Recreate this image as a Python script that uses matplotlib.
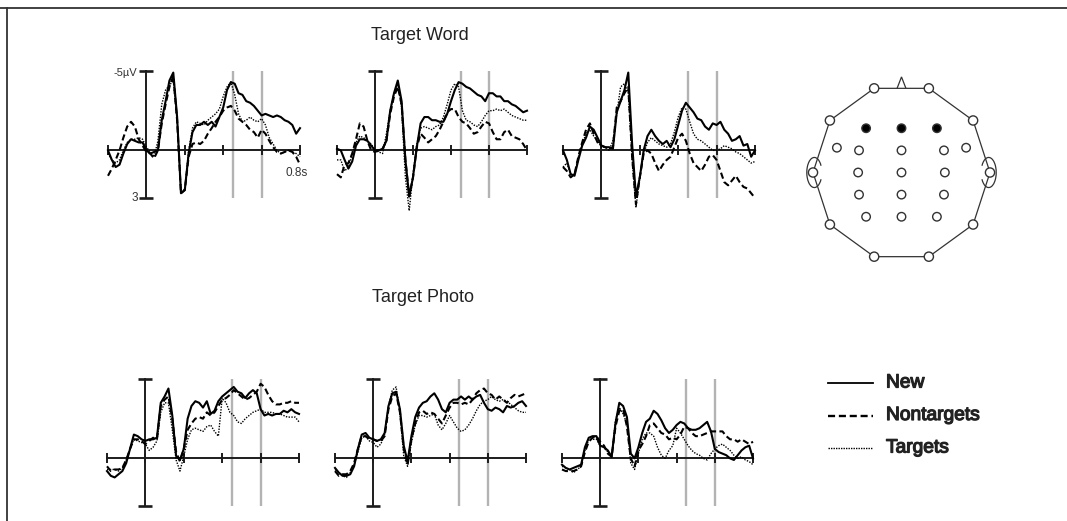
import numpy as np
import matplotlib
matplotlib.use("Agg")
import matplotlib.pyplot as plt
from matplotlib.patches import Circle, Polygon, Arc
import matplotlib.patheffects as pe

plt.rcParams['font.family'] = ['Liberation Sans', 'DejaVu Sans']

# ---------------------------------------------------------------------------
# ERP grand averages (µV, negative plotted up), sampled every 20 ms
# ---------------------------------------------------------------------------
time_s = np.round(np.arange(-0.2, 0.8001, 0.02), 2)
tick_s = [-0.2, 0.0, 0.2, 0.4, 0.6, 0.8]
window_s = [0.45, 0.60]
volt_range = [-5, 3]

# Target Word -- F3
word_f3_new = [0, 0.6, 1.05, 0.9, 0.2, -0.4, -0.7, -0.6, -0.5, -0.5, 0, 0.2, 0.1, 0,
               -1.9, -3.1, -4.4, -4.9, -2.1, 2.7, 2.5, 0.2, -1.15, -1.6, -1.6, -1.8,
               -1.6, -1.8, -1.5, -2.1, -2.7, -3.8, -4.3, -4.2, -3.6, -3.5, -3.1, -3.0,
               -2.8, -2.5, -2.2, -2.3, -2.2, -2.1, -2.2, -2.1, -1.9, -1.8, -1.6, -1.05, -1.4]
word_f3_nontarget = [1.6, 1.15, 0.6, 0, -0.8, -1.5, -1.8, -1.5, -0.7, -0.3, 0.1, 0.2, 0.5, 0,
                     -1.7, -2.9, -4.0, -4.7, -1.9, 2.7, 2.5, 0.4, -0.4, -0.5, -0.4, -0.6,
                     -1.05, -1.4, -1.8, -2.1, -2.5, -2.7, -2.8, -2.5, -2.0, -1.8, -1.6, -1.3,
                     -1.15, -0.8, -1.3, -1.05, -0.6, -0.2, 0.1, 0.2, 0.1, 0, 0.1, 0.4, 0.9]
word_f3_target = [0.2, 0.6, 0.8, 0.6, 0, -0.5, -0.7, -0.7, -0.8, -0.7, -0.2, 0.1, 0.4, -0.6,
                  -2.9, -3.8, -4.1, -4.4, -1.9, 2.5, 2.5, 0, -1.4, -1.8, -1.7, -1.6,
                  -1.9, -2.1, -2.3, -2.6, -3.4, -4.0, -4.3, -3.5, -2.3, -1.8, -1.9, -2.1,
                  -1.9, -1.8, -2.0, -1.6, -0.8, -0.4, 0, 0.2, 0.1, 0, 0.1, 0.2, 0.4]

# Target Word -- Fz
word_fz_new = [-0.1, 0, 0.6, 1.15, 0.7, -0.3, -0.7, -0.7, -0.6, -0.3, 0, 0, -0.1, -0.6,
               -2.5, -3.6, -4.4, -3.1, 0.6, 2.9, 1.7, -0.2, -1.7, -2.1, -2.1, -1.9,
               -1.9, -1.8, -1.8, -2.3, -3.1, -3.8, -4.3, -4.2, -4.0, -3.9, -3.7, -3.5,
               -3.4, -3.1, -3.6, -3.6, -3.4, -3.4, -3.1, -3.1, -2.9, -2.8, -2.6, -2.4, -2.5]
word_fz_nontarget = [1.5, 1.7, 0.9, 0.8, 0.2, -0.7, -1.7, -1.5, -0.6, 0, 0.1, 0, -0.1, -0.6,
                     -2.3, -3.4, -4.0, -2.9, 0.6, 2.9, 1.7, -0.2, -1.05, -0.8, -0.5, -0.7,
                     -0.9, -1.3, -1.8, -2.4, -2.6, -2.6, -2.1, -1.8, -1.7, -1.4, -1.05, -1.15,
                     -1.5, -1.8, -1.7, -1.15, -0.7, -0.7, -1.15, -1.3, -0.9, -0.8, -0.7, -0.4, 0]
word_fz_target = [0.6, 0.6, 1.3, 1.05, 0.2, -0.5, -0.9, -0.8, -0.6, -0.4, 0, 0.1, 0.2, -1.05,
                  -2.5, -3.6, -4.2, -2.7, 1.7, 3.8, 1.5, -0.4, -1.4, -1.5, -1.4, -1.3,
                  -1.5, -1.6, -2.1, -2.9, -3.8, -4.2, -4.0, -2.5, -1.9, -1.8, -1.6, -1.5,
                  -1.8, -2.2, -2.5, -2.5, -2.6, -2.5, -2.6, -2.4, -2.2, -2.1, -2.0, -1.9, -1.9]

# Target Word -- F4
word_f4_new = [0, 0.6, 1.5, 1.6, 0.6, -0.3, -0.8, -1.5, -1.3, -0.8, -0.3, -0.2, -0.2, -0.1,
               -2.4, -3.1, -3.8, -4.9, -0.4, 2.9, 1.7, 0, -0.9, -1.3, -0.9, -0.6,
               -0.4, -0.6, -0.2, -0.7, -1.6, -2.5, -3.0, -2.7, -2.4, -2.0, -1.9, -1.5,
               -1.3, -1.7, -1.6, -1.8, -1.3, -1.05, -0.6, -0.7, -0.9, -0.3, -0.4, 0.4, 0]
word_f4_nontarget = [1.05, 1.3, 1.7, 1.5, 0.4, -0.5, -1.3, -1.7, -1.05, -0.5, -0.3, -0.2, -0.1, -0.2,
                     -2.7, -3.1, -3.6, -4.0, 0.4, 3.4, 1.7, 0.2, 0, 0.2, 0.8, 1.3,
                     0.9, 0.6, 0.4, -0.2, -0.8, -1.05, -0.6, 0.2, 0.8, 1.05, 1.3, 0.9,
                     0.4, 0.3, 0.6, 1.3, 2.0, 2.2, 1.9, 1.6, 2.0, 2.3, 2.4, 2.7, 3.0]
word_f4_target = [1.05, 0.8, 1.5, 1.5, 0.4, -0.4, -1.05, -1.3, -0.9, -0.6, -0.2, -0.2, 0, -0.6,
                  -2.3, -4.0, -4.2, -3.6, 0.6, 3.6, 1.7, 0.2, -0.5, -0.8, -0.6, -0.4,
                  -0.3, -0.2, -0.4, -1.15, -2.1, -2.7, -2.6, -1.8, -1.05, -0.7, -0.6, -0.4,
                  -0.2, 0, 0, -0.1, -0.3, -0.2, -0.1, 0.1, 0.2, 0.4, 0.6, 0.8, 0.7]

# Target Photo -- F3
photo_f3_new = [0.8, 1.1, 1.2, 1.0, 0.8, 0.3, -0.6, -1.5, -1.4, -1.2, -1.1, -1.2, -1.2, -1.3,
                -3.5, -3.9, -4.4, -2.7, -0.15, 0.1, -0.6, -2.5, -3.3, -3.6, -3.5, -3.2,
                -3.6, -2.8, -3.0, -3.6, -3.9, -4.1, -4.3, -4.5, -4.2, -4.1, -3.8, -4.1,
                -4.3, -4.1, -3.1, -2.7, -2.8, -2.7, -2.8, -2.8, -3.0, -2.9, -3.1, -2.9, -2.8]
photo_f3_nontarget = [0.5, 0.8, 0.7, 0.7, 0.6, 0.1, -0.6, -1.2, -1.2, -1.1, -0.9, -1.1, -1.3, -1.2,
                      -3.3, -3.7, -3.9, -2.5, -0.4, 0.2, -0.6, -1.8, -2.2, -2.5, -2.6, -2.5,
                      -2.9, -2.7, -2.9, -3.3, -3.7, -3.8, -4.0, -4.3, -4.1, -3.9, -3.7, -3.8,
                      -4.0, -4.2, -4.7, -4.5, -4.0, -3.6, -3.4, -3.4, -3.5, -3.5, -3.6, -3.5, -3.5]
photo_f3_target = [0.7, 0.7, 0.7, 0.8, 0.6, 0.1, -0.6, -1.2, -1.1, -1.0, -0.9, -0.5, -0.7, -1.1,
                   -2.9, -3.5, -3.5, -1.8, 0.1, 0.8, -0.15, -1.2, -1.8, -1.9, -1.8, -1.7,
                   -2.0, -2.1, -1.7, -1.4, -3.8, -3.5, -2.9, -2.7, -2.3, -2.2, -2.5, -2.7,
                   -2.9, -3.0, -3.1, -2.9, -2.9, -2.9, -2.8, -2.8, -2.7, -2.6, -2.6, -2.6, -2.3]

# Target Photo -- Fz
photo_fz_new = [0.6, 0.9, 1.1, 1.1, 1.0, 0.5, -0.6, -1.5, -1.6, -1.3, -1.2, -1.1, -1.2, -1.6,
                -3.3, -4.1, -4.2, -3.1, -0.8, 0.2, -1.4, -2.6, -3.2, -3.5, -3.6, -3.9,
                -4.1, -3.7, -3.1, -2.9, -3.5, -3.7, -3.7, -3.9, -3.7, -3.9, -3.7, -3.9,
                -4.0, -3.5, -3.1, -3.0, -3.2, -3.1, -2.9, -3.3, -3.2, -3.3, -3.5, -3.6, -3.3]
photo_fz_nontarget = [0.8, 1.1, 1.0, 1.0, 0.8, 0.3, -0.6, -1.4, -1.4, -1.2, -1.2, -1.1, -1.1, -1.4,
                      -3.1, -3.9, -4.1, -2.9, -0.6, 0.4, -1.2, -2.2, -2.9, -3.0, -2.8, -2.9,
                      -2.8, -2.5, -2.2, -2.7, -3.2, -3.5, -3.5, -3.4, -3.5, -3.4, -3.7, -4.1,
                      -4.3, -4.4, -4.1, -4.0, -3.7, -3.9, -3.7, -3.5, -3.8, -4.0, -3.9, -4.0, -4.1]
photo_fz_target = [0.7, 0.9, 1.1, 1.2, 0.9, 0.4, -0.4, -1.3, -1.4, -1.1, -1.0, -0.7, -0.9, -1.5,
                   -3.3, -4.3, -4.5, -2.9, -0.15, 0.5, -1.0, -2.1, -2.7, -2.7, -2.6, -2.7,
                   -2.8, -2.1, -1.8, -2.2, -2.7, -2.3, -1.9, -1.7, -1.8, -2.1, -2.5, -3.0,
                   -3.4, -3.6, -3.7, -3.9, -3.7, -3.6, -3.7, -3.6, -3.4, -3.2, -3.0, -2.9, -2.9]

# Target Photo -- F4
photo_f4_new = [0.4, 0.6, 0.7, 0.6, 0.5, 0.4, -0.7, -1.3, -1.4, -1.4, -0.8, -0.7, -0.5, -0.1,
                -2.2, -3.5, -3.3, -2.6, -0.3, 0, -0.7, -1.6, -2.3, -2.5, -3.0, -2.8,
                -2.4, -1.9, -1.6, -1.8, -2.1, -2.3, -2.2, -1.9, -1.8, -1.8, -1.9, -2.1,
                -2.3, -1.7, -0.6, -0.4, -0.3, -0.2, 0, 0.1, -0.2, -0.5, -0.7, -0.8, 0]
photo_f4_nontarget = [0.7, 0.8, 0.8, 0.8, 0.7, 0.5, -0.4, -1.05, -1.3, -1.4, -1.05, -0.8, -0.3, -0.1,
                      -2.0, -3.0, -3.1, -2.0, 0, 0.5, -0.5, -0.9, -1.4, -2.1, -2.2, -1.9,
                      -1.6, -1.5, -1.2, -1.3, -1.2, -1.5, -2.0, -1.9, -1.6, -1.4, -1.4, -1.5,
                      -1.6, -1.7, -1.7, -1.7, -1.7, -1.4, -1.2, -1.2, -1.05, -1.2, -1.05, -0.9, -1.05]
photo_f4_target = [0.5, 0.6, 0.7, 0.9, 0.7, 0.5, -0.5, -1.2, -1.2, -1.2, -0.8, -0.7, -0.4, -0.1,
                   -2.4, -3.2, -2.8, -2.2, 0.3, 0.7, -0.3, -1.2, -1.6, -1.6, -1.4, -0.7,
                   -0.2, 0, -0.5, -0.8, -1.9, -1.6, -1.2, -0.8, -0.5, -0.3, -0.2, 0,
                   0.1, -0.3, -0.6, -0.8, -0.9, -0.7, -0.5, -0.2, 0, -0.1, 0.1, 0.2, 0.4]

condition_labels = ["New", "Nontargets", "Targets"]
block_titles = ["Target Word", "Target Photo"]

# Electrode montage (unit head radius); the three frontal sites are highlighted
rim_angles_deg = list(range(0, 360, 36))
inner_x = [-0.40, 0.0, 0.40,
           -0.73, -0.48, 0.0, 0.48, 0.73,
           -0.49, 0.0, 0.49,
           -0.48, 0.0, 0.48,
           -0.40, 0.0, 0.40]
inner_y = [0.50, 0.50, 0.50,
           0.28, 0.25, 0.25, 0.25, 0.28,
           0.0, 0.0, 0.0,
           -0.25, -0.25, -0.25,
           -0.50, -0.50, -0.50]
highlighted = [True, True, True] + [False] * 14

# ---------------------------------------------------------------------------
W, H = 1067, 521
fig = plt.figure(figsize=(W / 100, H / 100), dpi=100)
fig.patch.set_facecolor("white")


def px_axes(x0, x1, y_top, y_bot):
    return fig.add_axes([x0 / W, 1 - y_bot / H, (x1 - x0) / W, (y_bot - y_top) / H])


AX_COLOR = "#1c1c1c"


def draw_panel(ax, new, nontarget, target, labels=False):
    ax.set_xlim(tick_s[0], tick_s[-1])
    ax.set_ylim(volt_range[1], volt_range[0])
    ax.axis("off")
    for w in window_s:
        ax.plot([w, w], volt_range, color="#b3b3b3", lw=1.7, zorder=1,
                clip_on=False, solid_capstyle="butt")
    ax.plot([tick_s[0], tick_s[-1]], [0, 0], color=AX_COLOR, lw=1.4, zorder=2,
            clip_on=False)
    ax.plot(tick_s, np.zeros(len(tick_s)), ls="none", marker="|", ms=7, mew=1.4,
            color=AX_COLOR, zorder=2, clip_on=False)
    ax.plot([0, 0], volt_range, color=AX_COLOR, lw=1.4, zorder=2, clip_on=False)
    ax.plot([0, 0], volt_range, ls="none", marker="_", ms=10, mew=1.9,
            color=AX_COLOR, zorder=2, clip_on=False)
    ax.plot(time_s, new, color="black", lw=1.5, zorder=5, clip_on=False)
    ax.plot(time_s, nontarget, color="black", lw=1.5, ls=(0, (3.0, 1.6)),
            zorder=4, clip_on=False)
    ax.plot(time_s, target, color="black", lw=1.0, ls=(0, (1.0, 1.0)),
            zorder=3, clip_on=False)
    if labels:
        ax.text(-0.05, volt_range[0] + 0.15, "-5µV", ha="right", va="center",
                fontsize=8, color="#333333")
        ax.text(-0.045, volt_range[1], "3", ha="right", va="center",
                fontsize=8.5, color="#333333")
        ax.text(0.78, 1.4, "0.8s", ha="center", va="center",
                fontsize=8.5, color="#333333")


word_sets = [(word_f3_new, word_f3_nontarget, word_f3_target),
             (word_fz_new, word_fz_nontarget, word_fz_target),
             (word_f4_new, word_f4_nontarget, word_f4_target)]
photo_sets = [(photo_f3_new, photo_f3_nontarget, photo_f3_target),
              (photo_fz_new, photo_fz_nontarget, photo_fz_target),
              (photo_f4_new, photo_f4_nontarget, photo_f4_target)]

top_boxes = [(108, 300, 71, 198), (337, 527, 71, 198), (563, 755, 71, 198)]
bottom_boxes = [(107, 299, 379, 506), (335, 526, 379, 506), (562, 753, 379, 506)]

for i, (box, data) in enumerate(zip(top_boxes, word_sets)):
    draw_panel(px_axes(*box), *data, labels=(i == 0))
for box, data in zip(bottom_boxes, photo_sets):
    draw_panel(px_axes(*box), *data)

# ---------------------------------------------------------------------------
# Overlay in pixel units: frame, block titles, legend
over = fig.add_axes([0, 0, 1, 1])
over.set_xlim(0, W)
over.set_ylim(H, 0)
over.axis("off")
over.plot([0, W], [8, 8], color="#333333", lw=1.3)
over.plot([7, 7], [8, H], color="#333333", lw=1.3)

over.text(420, 35, block_titles[0], ha="center", va="center", fontsize=13,
          color="#222222")
over.text(423, 298, block_titles[1], ha="center", va="center", fontsize=13,
          color="#222222")

legend_styles = [dict(lw=1.3, ls="-"), dict(lw=1.7, ls=(0, (3.0, 1.6))),
                 dict(lw=1.0, ls=(0, (1.0, 0.8)))]
for k, (lab, sty) in enumerate(zip(condition_labels, legend_styles)):
    y = 383 + k * 32.5
    over.plot([828, 873], [y, y], color="black", **sty)
    over.text(886, y, lab, ha="left", va="center", fontsize=13.8, color="#222222",
              path_effects=[pe.withStroke(linewidth=0.9, foreground="#222222")])

# ---------------------------------------------------------------------------
# Head map (unit radius = 88.5 px)
R = 88.5
cx, cy = 901.5, 172.5
head = fig.add_axes([(cx - 1.3 * R) / W, 1 - (cy + 1.243 * R) / H,
                     2.6 * R / W, 2.486 * R / H])
head.set_xlim(-1.3, 1.3)
head.set_ylim(-1.243, 1.243)
head.axis("off")

rim = np.deg2rad(np.array(rim_angles_deg))
rim_x, rim_y = np.cos(rim), np.sin(rim)
head.add_patch(Polygon(np.column_stack([rim_x, rim_y]), closed=True, fill=False,
                       ec="#333333", lw=0.9, zorder=1))
head.add_patch(Polygon([[-0.05, 0.951], [0, 1.08], [0.05, 0.951]], closed=False,
                       fill=False, ec="#333333", lw=0.9, zorder=1))
for side in (-1, 1):
    th1, th2 = (45, 315) if side < 0 else (225, 135)
    head.add_patch(Arc((side * 0.985, 0), 0.17, 0.34, theta1=th1, theta2=th2,
                       ec="#333333", lw=0.9, zorder=1))
for x, y in zip(rim_x, rim_y):
    head.add_patch(Circle((x, y), 0.052, fc="white", ec="#333333", lw=1.0, zorder=3))
for x, y, hl in zip(inner_x, inner_y, highlighted):
    head.add_patch(Circle((x, y), 0.048, fc="black" if hl else "white",
                          ec="#333333", lw=1.0, zorder=3))

fig.savefig("out.png", dpi=100, facecolor="white")
